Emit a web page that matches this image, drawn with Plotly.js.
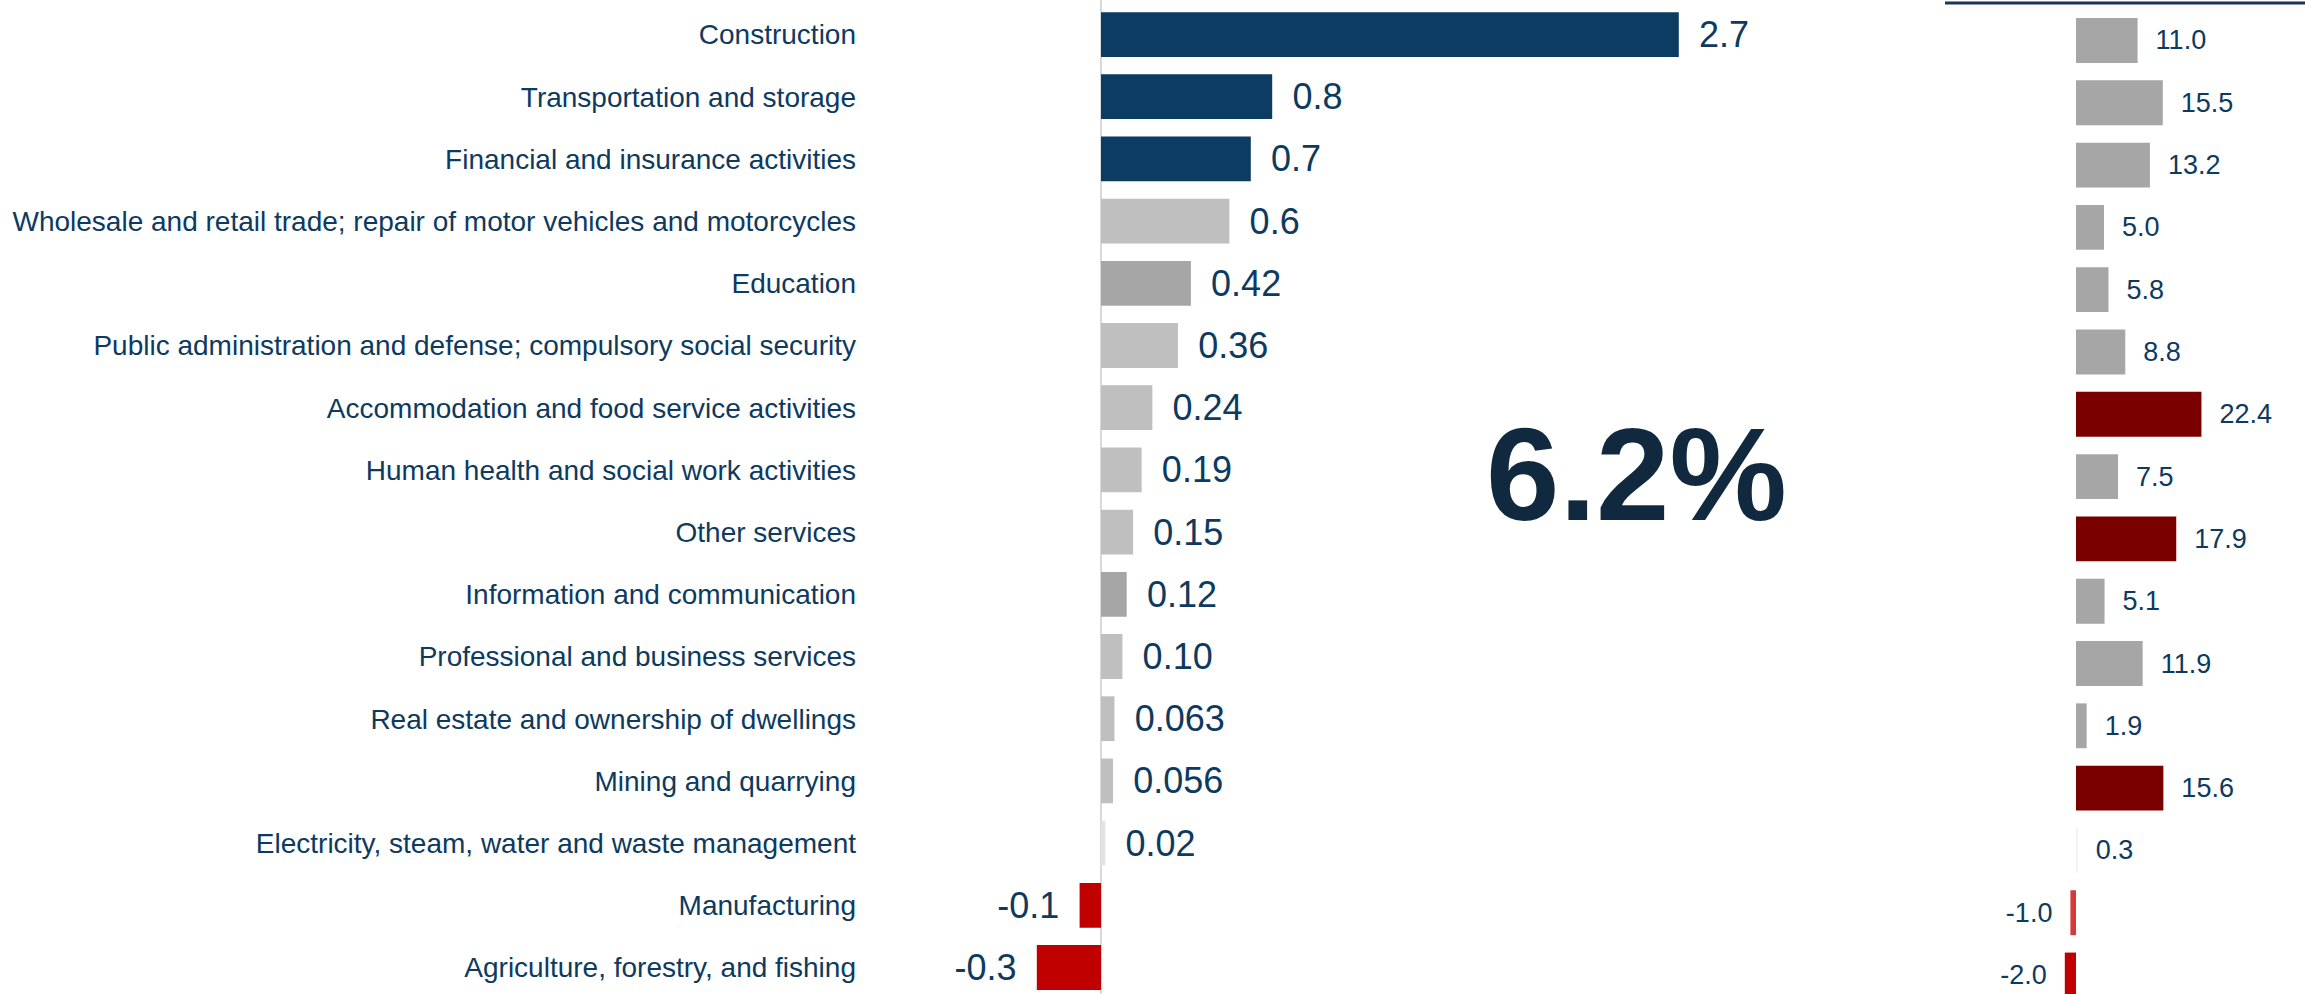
<!DOCTYPE html>
<html>
<head>
<meta charset="utf-8">
<script src="https://cdn.plot.ly/plotly-3.0.1.min.js"></script>
<style>
  html, body { margin: 0; padding: 0; background: #ffffff; }
  #chart { width: 2305px; height: 994px; }
</style>
</head>
<body>
<div id="chart"></div>
<script>
// ---- data ----
const categories = [
  "Construction",
  "Transportation and storage",
  "Financial and insurance activities",
  "Wholesale and retail trade; repair of motor vehicles and motorcycles",
  "Education",
  "Public administration and defense; compulsory social security",
  "Accommodation and food service activities",
  "Human health and social work activities",
  "Other services",
  "Information and communication",
  "Professional and business services",
  "Real estate and ownership of dwellings",
  "Mining and quarrying",
  "Electricity, steam, water and waste management",
  "Manufacturing",
  "Agriculture, forestry, and fishing"
];
const contribution = [2.7, 0.8, 0.7, 0.6, 0.42, 0.36, 0.24, 0.19, 0.15, 0.12, 0.10, 0.063, 0.056, 0.02, -0.1, -0.3];
const contributionLabels = ["2.7", "0.8", "0.7", "0.6", "0.42", "0.36", "0.24", "0.19", "0.15", "0.12", "0.10", "0.063", "0.056", "0.02", "-0.1", "-0.3"];
const contributionColors = ["#0c3c61", "#0c3c61", "#0c3c61", "#bfbfbf", "#a6a6a6", "#bfbfbf", "#bfbfbf", "#bfbfbf", "#bfbfbf", "#a6a6a6", "#bfbfbf", "#bfbfbf", "#bfbfbf", "#e3e3e3", "#c00000", "#c00000"];
const growth = [11.0, 15.5, 13.2, 5.0, 5.8, 8.8, 22.4, 7.5, 17.9, 5.1, 11.9, 1.9, 15.6, 0.3, -1.0, -2.0];
const growthLabels = ["11.0", "15.5", "13.2", "5.0", "5.8", "8.8", "22.4", "7.5", "17.9", "5.1", "11.9", "1.9", "15.6", "0.3", "-1.0", "-2.0"];
const growthColors = ["#a6a6a6", "#a6a6a6", "#a6a6a6", "#a6a6a6", "#a6a6a6", "#a6a6a6", "#7a0000", "#a6a6a6", "#7a0000", "#a6a6a6", "#a6a6a6", "#a6a6a6", "#7a0000", "#f2f2f2", "#d43a3a", "#c00000"];
const headline = "6.2%";

// ---- helpers ----
const PAD_L = "\u00a0\u2009";
const PAD_R = "\u00a0\u00a0";
const padTemplate = (vals, pad) => vals.map(v => v < 0 ? "%{text}" + pad : pad + "%{text}");

const W = 2305, H = 994;
const navy = "#0d3a5e";

const traces = [
  {
    type: "bar",
    orientation: "h",
    y: categories,
    x: contribution,
    text: contributionLabels,
    texttemplate: padTemplate(contribution, PAD_L),
    textposition: "outside",
    constraintext: "none",
    cliponaxis: false,
    textfont: { family: "Liberation Sans, Arial, sans-serif", size: 36, color: navy },
    marker: { color: contributionColors, line: { width: 0 } },
    width: 0.72,
    xaxis: "x",
    yaxis: "y",
    hoverinfo: "skip"
  },
  {
    type: "bar",
    orientation: "h",
    y: categories,
    x: growth,
    text: growthLabels,
    texttemplate: padTemplate(growth, PAD_R),
    textposition: "outside",
    constraintext: "none",
    cliponaxis: false,
    textfont: { family: "Liberation Sans, Arial, sans-serif", size: 27, color: navy },
    marker: { color: growthColors, line: { width: 0 } },
    width: 0.72,
    xaxis: "x2",
    yaxis: "y2",
    hoverinfo: "skip"
  }
];

const layout = {
  width: W,
  height: H,
  margin: { l: 0, r: 0, t: 0, b: 0, pad: 0 },
  paper_bgcolor: "#ffffff",
  plot_bgcolor: "rgba(0,0,0,0)",
  showlegend: false,
  bargap: 0.28,
  xaxis: {
    domain: [865 / W, 1900 / W],
    range: [(865 - 1101) / 214, (1900 - 1101) / 214],
    showgrid: false,
    showticklabels: false,
    ticks: "",
    zeroline: true,
    zerolinecolor: "#d9d9d9",
    zerolinewidth: 2,
    showline: false,
    fixedrange: true
  },
  yaxis: {
    domain: [0, 1],
    type: "category",
    categoryorder: "array",
    categoryarray: categories,
    range: [15.426, -0.555],
    showgrid: false,
    zeroline: false,
    ticks: "",
    ticklabelstandoff: 8,
    tickfont: { family: "Liberation Sans, Arial, sans-serif", size: 28, color: navy },
    anchor: "x",
    fixedrange: true
  },
  xaxis2: {
    domain: [1945 / W, 1],
    range: [(1945 - 2076) / 5.6, (2305 - 2076) / 5.6],
    showgrid: false,
    showticklabels: false,
    ticks: "",
    zeroline: false,
    showline: false,
    anchor: "y2",
    fixedrange: true
  },
  yaxis2: {
    domain: [0, 1],
    type: "category",
    categoryorder: "array",
    categoryarray: categories,
    range: [15.305, -0.650],
    showgrid: false,
    zeroline: false,
    showticklabels: false,
    ticks: "",
    anchor: "x2",
    fixedrange: true
  },
  shapes: [
    {
      type: "line",
      xref: "paper", yref: "paper",
      x0: 1945 / W, x1: 1,
      y0: 1 - 3 / H, y1: 1 - 3 / H,
      line: { color: "#1b3656", width: 3 }
    }
  ],
  annotations: [
    {
      text: headline,
      xref: "paper", yref: "paper",
      x: 1636 / W, y: 1 - 475 / H,
      xanchor: "center", yanchor: "middle",
      showarrow: false,
      font: { family: "Liberation Sans, Arial Black, Arial, sans-serif", size: 132, color: "#10293f", weight: 900 }
    }
  ]
};

Plotly.newPlot("chart", traces, layout, { displayModeBar: false, staticPlot: true });
</script>
</body>
</html>
